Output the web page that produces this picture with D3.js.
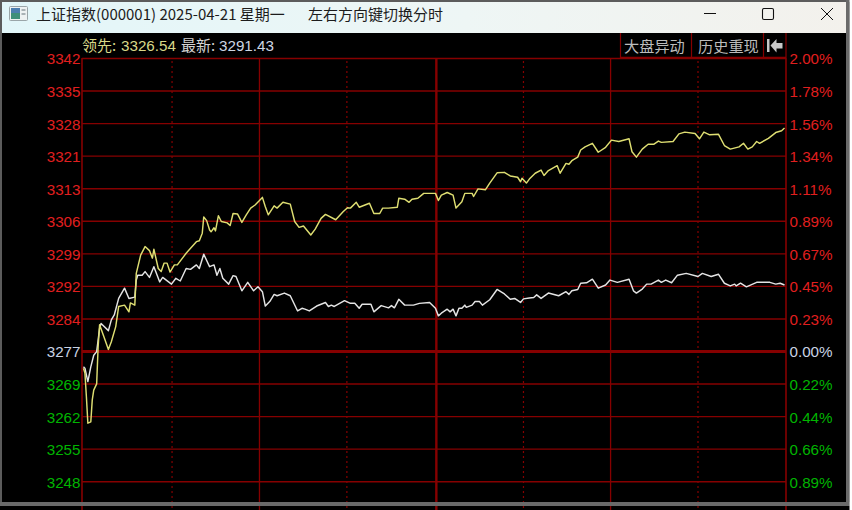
<!DOCTYPE html>
<html><head><meta charset="utf-8">
<script src="https://cdn.jsdelivr.net/npm/d3@7/dist/d3.min.js"></script>
<style>html,body{margin:0;padding:0;background:#fff;overflow:hidden}svg{display:block}</style>
</head><body><div id="c"></div>
<script>
const prevClose = 3276.73;
const pctTicks = [2,1.7778,1.5556,1.3333,1.1111,0.8889,0.6667,0.4444,0.2222,0,-0.2222,-0.4444,-0.6667,-0.8889,-1.1111];
const priceLabels = ["3342","3335","3328","3321","3313","3306","3299","3292","3284","3277","3269","3262","3255","3248","3240"];
const pctLabels = ["2.00%","1.78%","1.56%","1.34%","1.11%","0.89%","0.67%","0.45%","0.23%","0.00%","0.22%","0.44%","0.66%","0.89%","1.11%"];
const solidMinutes = [0,60.5,180.2,240];
const thickMinutes = [120.8];
const dottedMinutes = [30.7,90.3,150.5,210];
const titleMain = "上证指数(000001) 2025-04-21 星期一";
const titleHint = "左右方向键切换分时";
const buttons = ["大盘异动","历史重现"];
const leaderValue = "3326.54";
const latestValue = "3291.43";

const leaderMin = [0.5,1,1.5,2,3,3.5,4,5,5.5,6,7.5,9,10,11.5,12.5,14.5,16,16.5,18,18.5,20,21.5,23,24,24.5,26,27,28,29,30,31.5,32.5,35.5,37,39,40,41,41.5,42.5,43.5,44,45,45.5,46.5,47.5,49.5,50.5,51.5,53,54.5,56,57.5,59,60.5,61.5,62.5,63.5,65.5,66.5,68.5,71,72.5,74,75.5,78,79.5,81.5,83,86.5,89,90.5,91.5,93.5,94.5,98,99.5,101.5,102.5,104.5,107.5,108,110,111.5,112.5,114.5,116.5,120.5,121.5,122.5,124.5,126.5,127.5,129.5,130.5,133,133.5,135,137.5,139,141.5,144,146,148.5,149.5,150,151.5,152.5,154.5,156.5,157.5,159,162,163,165,166,167,169,170,171.5,174,176,178.5,180.5,183,186.5,187.5,189,191,193,195,196.5,197.5,201.5,203.5,205.5,209,210.5,212,214,217,219,221,224,225.5,227,228.5,230,231,234,236.5,238.5,239.5];
const leaderPrice = [3273.0,3271.9,3266.6,3260.7,3261.0,3265.9,3268.1,3269.5,3277.8,3282.7,3280.0,3277.2,3278.9,3282.3,3286.8,3287.1,3285.6,3287.6,3287.1,3294.2,3298.3,3300.2,3299.3,3297.6,3299.6,3295.3,3294.6,3296.5,3296.5,3294.5,3296.1,3296.1,3298.7,3299.8,3301.3,3301.5,3303.2,3306.8,3306.0,3303.9,3303.5,3304.4,3303.7,3307.1,3305.8,3305.5,3304.9,3307.6,3307.5,3305.6,3307.3,3308.8,3309.5,3310.5,3311.2,3309.1,3307.3,3309.3,3308.8,3310.1,3309.7,3305.8,3304.5,3304.8,3302.8,3304.1,3306.5,3307.4,3306.2,3308.0,3308.9,3308.8,3310.1,3309.0,3309.9,3307.6,3307.6,3308.8,3308.8,3309.0,3311.0,3310.8,3310.1,3310.8,3311.0,3312.1,3312.1,3310.5,3311.7,3312.3,3311.7,3308.8,3310.2,3312.1,3312.1,3311.4,3313.1,3312.9,3314.4,3316.7,3316.8,3316.0,3315.7,3314.7,3315.5,3314.4,3315.3,3316.6,3317.3,3316.1,3317.2,3318.3,3316.6,3318.8,3318.6,3319.4,3320.2,3321.8,3322.5,3323.3,3321.3,3322.4,3324.0,3323.7,3324.3,3321.4,3320.2,3322.0,3323.1,3323.1,3323.8,3323.5,3323.7,3325.4,3325.8,3325.5,3324.3,3325.8,3325.2,3325.3,3322.8,3322.0,3322.5,3323.3,3322.0,3322.5,3323.7,3323.3,3324.4,3325.7,3326.1,3326.7];
const indexMin = [0.5,1,2,3,4,5,6,6.5,9,10,11,12.5,14.5,16,18,18.5,19,20.5,21.5,23,24.5,26.5,27.5,30.5,32,33.5,35.5,37,39,40,41.5,43.5,45,46,47,48,50,51.5,52.5,54.5,56.5,58.5,60,61.5,62.5,64,65.5,66.5,69,71,73.5,75,76,77.5,80,83,84,85,86,89.5,91.5,93,94.5,95.5,98.5,99.5,102,104.5,105.5,106.5,108,110,113,115,118.5,120.5,121.5,122.5,124.5,125.5,126.5,127.5,128.5,129.5,130.5,131,133,134,135.5,136.5,139,141.5,144,146,147.5,149.5,150.5,152.5,154,155,156.5,159,162.5,165,166,167,169,170,172,174,176,178.5,180,182.5,186.5,188,189,191,192.5,194,196.5,197.5,199,201,203,206,210,211.5,214.5,217,219,221,222.5,223,224.5,226.5,230,234.5,236.5,238,239.5];
const indexPrice = [3273.3,3273.0,3270.0,3273.3,3275.9,3276.7,3281.9,3283.0,3281.4,3283.8,3284.9,3288.6,3290.9,3288.6,3288.9,3292.7,3293.8,3293.8,3294.6,3293.3,3295.7,3292.3,3293.3,3291.8,3293.1,3292.5,3295.3,3295.1,3296.1,3295.3,3298.5,3295.7,3296.1,3293.8,3295.3,3293.1,3291.8,3293.7,3293.5,3290.3,3292.2,3290.3,3291.2,3290.1,3286.9,3287.9,3289.5,3289.2,3289.8,3289.2,3285.8,3286.4,3286.2,3285.8,3286.9,3287.7,3286.8,3287.1,3286.8,3288.1,3287.5,3287.5,3286.4,3287.3,3287.3,3285.6,3287.0,3286.5,3287.0,3286.5,3288.4,3287.1,3287.1,3287.5,3287.7,3286.4,3284.7,3285.3,3286.2,3285.6,3286.2,3284.7,3286.4,3286.4,3287.1,3286.6,3287.1,3287.9,3287.9,3287.1,3288.3,3290.6,3289.6,3288.4,3288.6,3287.7,3288.5,3288.7,3288.8,3289.4,3288.6,3289.8,3289.2,3290.1,3289.5,3290.3,3290.6,3292.0,3292.1,3292.9,3290.9,3291.6,3292.7,3292.2,3292.9,3290.3,3289.8,3290.7,3291.8,3291.8,3292.7,3292.2,3292.7,3292.1,3293.8,3294.2,3293.5,3294.2,3293.5,3294.0,3292.0,3291.4,3291.8,3291.4,3292.0,3291.2,3292.2,3292.2,3291.8,3292.0,3291.6];

const W=852,H=510,GRID="#860000";
const svg=d3.select("#c").append("svg").attr("width",W).attr("height",H);
const sans='"Liberation Sans",Arial,sans-serif', cjk='"Noto Sans CJK SC","Liberation Sans",sans-serif';
const defs=svg.append("defs");
const g=defs.append("linearGradient").attr("id","tb");
g.append("stop").attr("offset","0").attr("stop-color","#e2f6f9");
g.append("stop").attr("offset","0.55").attr("stop-color","#eef6f5");
g.append("stop").attr("offset","1").attr("stop-color","#f3f1ec");

svg.append("rect").attr("width",W).attr("height",H).attr("fill","#000");

const x=d3.scaleLinear().domain([0,240]).range([82,786]);
const yPct=d3.scaleLinear().domain([0,2]).range([351.5,58.5]);
const y=p=>yPct((p-prevClose)/prevClose*100);

const plot=svg.append("g");
plot.selectAll("line.h").data(pctTicks).join("line")
  .attr("x1",x(0)).attr("x2",x(240)).attr("y1",d=>yPct(d)).attr("y2",d=>yPct(d))
  .attr("stroke",GRID).attr("stroke-width",d=>d===0?3:1.4);
const vTop=58, vBot=H+10;
plot.selectAll("line.s").data(solidMinutes).join("line")
  .attr("x1",x).attr("x2",x).attr("y1",vTop).attr("y2",vBot)
  .attr("stroke",GRID).attr("stroke-width",d=>(d===0||d===240)?1.6:1.3);
plot.selectAll("line.t").data(thickMinutes).join("line")
  .attr("x1",x).attr("x2",x).attr("y1",vTop).attr("y2",vBot)
  .attr("stroke",GRID).attr("stroke-width",2.4);
plot.selectAll("line.d").data(dottedMinutes).join("line")
  .attr("x1",x).attr("x2",x).attr("y1",vTop+3).attr("y2",vBot)
  .attr("stroke",GRID).attr("stroke-width",1.2).attr("stroke-dasharray","2 3");

const colorFor=d=>d>0?"#e01f1f":d<0?"#00b400":"#c9d3e4";
const axisL=d3.axisLeft(yPct).tickValues(pctTicks).tickSize(0).tickPadding(0).tickFormat((d,i)=>priceLabels[i]);
const axisR=d3.axisRight(yPct).tickValues(pctTicks).tickSize(0).tickPadding(0).tickFormat((d,i)=>pctLabels[i]);
const aL=svg.append("g").attr("transform","translate(80.5,0)").call(axisL);
const aR=svg.append("g").attr("transform","translate(789.5,0)").call(axisR);
[aL,aR].forEach(a=>{a.select(".domain").remove();
  a.selectAll("text").attr("font-family",sans).attr("font-size",15.2).attr("fill",colorFor).attr("dy","0.36em");});

const mk=(ms,ps)=>d3.line().x(i=>x(ms[i])).y(i=>y(ps[i]))(d3.range(ms.length));
plot.append("path").attr("d",mk(indexMin,indexPrice)).attr("fill","none").attr("stroke","#e4e4e4").attr("stroke-width",1.45).attr("stroke-linejoin","round");
plot.append("path").attr("d",mk(leaderMin,leaderPrice)).attr("fill","none").attr("stroke","#dede72").attr("stroke-width",1.45).attr("stroke-linejoin","round");

const rd=svg.append("g").attr("font-size",15.2).attr("font-family",sans);
rd.append("text").attr("x",82).attr("y",51).attr("fill","#d8d888").attr("font-family",cjk).attr("font-size",15).text("领先:");
rd.append("text").attr("x",121).attr("y",50.5).attr("fill","#d8d888").text(leaderValue);
rd.append("text").attr("x",181).attr("y",51).attr("fill","#d4d4d4").attr("font-family",cjk).attr("font-size",15).text("最新:");
rd.append("text").attr("x",219).attr("y",50.5).attr("fill","#cdd6e4").text(latestValue);

const btnEdges=[620.5,691.5,763.5,786];
svg.selectAll("line.b").data(btnEdges).join("line")
  .attr("x1",d=>d).attr("x2",d=>d).attr("y1",33).attr("y2",58).attr("stroke",GRID).attr("stroke-width",1.2);
svg.append("line").attr("x1",620).attr("x2",786).attr("y1",57.5).attr("y2",57.5).attr("stroke",GRID).attr("stroke-width",1.6);
svg.selectAll("text.b").data(buttons).join("text")
  .attr("x",(d,i)=>i?698:624).attr("y",52).attr("font-family",cjk).attr("font-size",15.2).attr("fill","#bcbcbc").text(d=>d);
svg.append("path").attr("d","M767 39h2.5v13H767zM770.5 45.5l6-6.5v4h6v5.5h-6v4z").attr("fill","#c8c8c8");

svg.append("rect").attr("x",0).attr("y",2).attr("width",848).attr("height",31).attr("fill","url(#tb)");
svg.append("rect").attr("x",0).attr("y",0).attr("width",850).attr("height",2).attr("fill","#5c5c5c");
svg.append("rect").attr("x",0).attr("y",0).attr("width",2).attr("height",502).attr("fill","#5c5c5c");
svg.append("rect").attr("x",846).attr("y",0).attr("width",3.5).attr("height",506).attr("fill","#6a6a6a");
svg.append("rect").attr("x",0).attr("y",502).attr("width",849.5).attr("height",4).attr("fill","#6a6a6a");
svg.append("rect").attr("x",849.5).attr("y",0).attr("width",3).attr("height",H).attr("fill","#fff");

const ic=svg.append("g");
ic.append("rect").attr("x",9.5).attr("y",6.5).attr("width",18).attr("height",14).attr("rx",1).attr("fill","#eef2f2").attr("stroke","#9aa5a8");
ic.append("rect").attr("x",11).attr("y",8).attr("width",9).attr("height",11).attr("fill","#3f8f7a");
ic.append("rect").attr("x",11).attr("y",8).attr("width",9).attr("height",5).attr("fill","#4d7fb0");
ic.append("rect").attr("x",21.5).attr("y",9).attr("width",4).attr("height",2).attr("fill","#a9b2b5");
ic.append("rect").attr("x",21.5).attr("y",13).attr("width",4).attr("height",2).attr("fill","#a9b2b5");
svg.append("text").attr("x",36).attr("y",19.5).attr("font-family",cjk).attr("font-size",15).attr("fill","#1c1c1c").text(titleMain);
svg.append("text").attr("x",308).attr("y",19.5).attr("font-family",cjk).attr("font-size",15).attr("fill","#1c1c1c").text(titleHint);
svg.append("line").attr("x1",704).attr("x2",716).attr("y1",13.5).attr("y2",13.5).attr("stroke","#111");
svg.append("rect").attr("x",762.5).attr("y",8.5).attr("width",11).attr("height",11).attr("rx",1.5).attr("fill","none").attr("stroke","#111").attr("stroke-width",1.1);
svg.append("path").attr("d","M821 8L833 20M833 8L821 20").attr("stroke","#111").attr("stroke-width",1);
</script></body></html>
